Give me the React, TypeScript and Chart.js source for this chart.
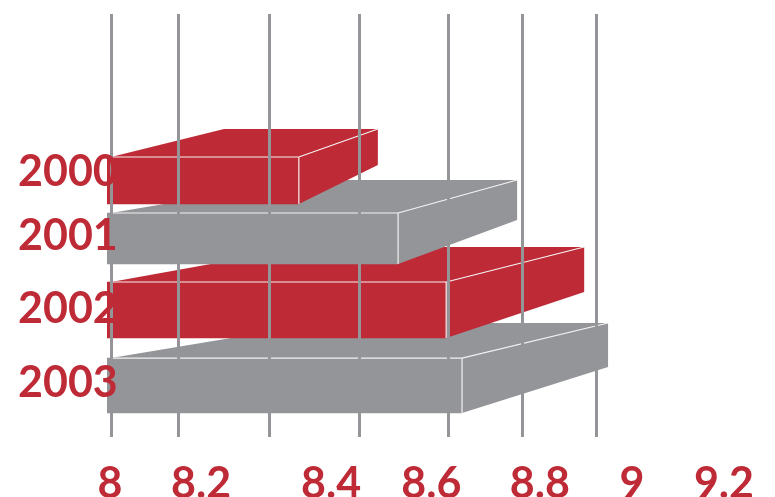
import React, { useEffect, useRef } from "react";
import { Chart, registerables } from "chart.js";

Chart.register(...registerables);

// Data
const years = ["2000", "2001", "2002", "2003"];
const values = [8.367, 8.561, 8.655, 8.686];
const xTickLabels = ["8", "8.2", "8.4", "8.6", "8.8", "9", "9.2"];

// Placement on the axes (the source picture spaces these unevenly)
const xLabelPositions = [7.998, 8.176, 8.43, 8.626, 8.838, 9.018, 9.198];
const gridPositions = [8, 8.131, 8.309, 8.485, 8.659, 8.805, 8.948];
const rowPositions = [0, 0.853, 1.904, 3.015];
const yLabelPositions = [-0.125, 0.816, 1.89, 2.978];
const AXIS_MIN = 7.992;
const AXIS_MAX = 9.2;

// Styling of each 3D box
const RED = "#BE2B37";
const GREY = "#939598";
const FONT = "Lato";
const colors = [RED, GREY, RED, GREY];
const thickness = [47, 51, 56, 55];
const depthX = [79, 119, 138, 146];
const depthY = [28, 33, 35, 35];
const backHeight = [36, 40, 45, 44];
const topLeftDepthX = [113, 194, 194, 210];

function geom(meta: any) {
  const el = meta.data[0];
  const { x, y, base, height } = el.getProps(["x", "y", "base", "height"], true);
  return { left: base, right: x, top: y - height / 2, bottom: y + height / 2 };
}

const box3d = {
  id: "box3d",
  beforeDatasetDraw(chart: any, args: any) {
    const i = args.index;
    const { left, right, top, bottom } = geom(args.meta);
    const ctx = chart.ctx;
    const bx = right + depthX[i];
    const by = top - depthY[i];
    ctx.save();
    ctx.fillStyle = colors[i];
    // top face
    ctx.beginPath();
    ctx.moveTo(left + 4, top);
    ctx.lineTo(right, top);
    ctx.lineTo(bx, by);
    ctx.lineTo(left + 4 + topLeftDepthX[i], by);
    ctx.closePath();
    ctx.fill();
    // side face
    ctx.beginPath();
    ctx.moveTo(right, top);
    ctx.lineTo(bx, by);
    ctx.lineTo(bx, by + backHeight[i]);
    ctx.lineTo(right, bottom);
    ctx.closePath();
    ctx.fill();
    ctx.restore();
  },
  afterDatasetDraw(chart: any, args: any) {
    const i = args.index;
    const { left, right, top, bottom } = geom(args.meta);
    const ctx = chart.ctx;
    ctx.save();
    ctx.strokeStyle = "#F4F1F1";
    ctx.lineWidth = 1.2;
    ctx.beginPath();
    ctx.moveTo(left + 4, top);
    ctx.lineTo(right, top);
    ctx.lineTo(right + depthX[i], top - depthY[i]);
    ctx.moveTo(right, top);
    ctx.lineTo(right, bottom);
    ctx.stroke();
    ctx.restore();
  },
};

const noPadding = (s: any) => {
  s.paddingTop = 0;
  s.paddingBottom = 0;
  s.paddingLeft = 0;
  s.paddingRight = 0;
};

export default function App() {
  const ref = useRef<HTMLCanvasElement>(null);
  useEffect(() => {
    const chart = new Chart(ref.current as HTMLCanvasElement, {
      type: "bar",
      data: {
        datasets: years.map((_, i) => ({
          label: years[i],
          data: [{ x: values[i], y: rowPositions[i] }],
          base: AXIS_MIN,
          backgroundColor: colors[i],
          barThickness: thickness[i],
          grouped: false,
          xAxisID: "x",
          yAxisID: "y",
        })) as any,
      },
      plugins: [box3d],
      options: {
        indexAxis: "y",
        animation: false,
        responsive: false,
        devicePixelRatio: 1,
        layout: { padding: { left: 18, top: 14, right: 50, bottom: 0 } },
        plugins: { legend: { display: false }, tooltip: { enabled: false }, title: { display: false } },
        scales: {
          x: {
            type: "linear",
            position: "bottom",
            min: AXIS_MIN,
            max: AXIS_MAX,
            grid: { display: false },
            border: { display: false },
            afterBuildTicks: (s: any) => {
              s.ticks = xLabelPositions.map((value) => ({ value }));
            },
            afterFit: (s: any) => {
              s.height = 60;
              noPadding(s);
            },
            ticks: {
              autoSkip: false,
              maxRotation: 0,
              padding: 13,
              color: RED,
              font: { family: FONT, size: 43, weight: "bold" },
              callback: (_v: any, i: number) => xTickLabels[i],
            },
          },
          xGrid: {
            type: "linear",
            position: "bottom",
            min: AXIS_MIN,
            max: AXIS_MAX,
            border: { display: false },
            grid: { color: GREY, lineWidth: 3, z: 1, drawTicks: false },
            afterBuildTicks: (s: any) => {
              s.ticks = gridPositions.map((value) => ({ value }));
            },
            afterFit: (s: any) => {
              s.height = 0;
              noPadding(s);
            },
            ticks: { display: false },
          },
          y: {
            type: "linear",
            reverse: true,
            offset: false,
            min: -2.449,
            max: 3.772,
            grid: { display: false, offset: false },
            border: { display: false },
            afterBuildTicks: (s: any) => {
              s.ticks = yLabelPositions.map((value) => ({ value }));
            },
            afterFit: (s: any) => {
              s.width = 89;
              noPadding(s);
            },
            ticks: {
              autoSkip: false,
              mirror: true,
              padding: -89,
              z: 5,
              color: RED,
              font: { family: FONT, size: 43, weight: "bold" },
              callback: (_v: any, i: number) => years[i],
            },
          },
        },
      } as any,
    });
    return () => chart.destroy();
  }, []);
  return (
    <div style={{ position: "absolute", left: 0, top: 0, width: 775, height: 497, overflow: "hidden", background: "#fff" }}>
      <canvas ref={ref} width={775} height={497} style={{ display: "block" }} />
    </div>
  );
}
